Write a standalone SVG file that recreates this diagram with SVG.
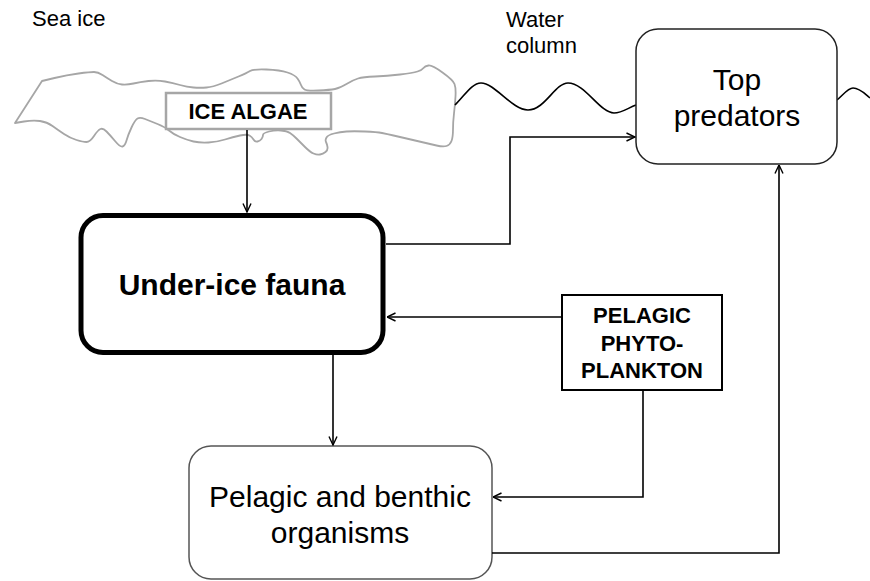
<svg xmlns="http://www.w3.org/2000/svg" width="870" height="581" viewBox="0 0 870 581">
<defs>
<marker id="arr" viewBox="0 0 10 10" refX="9.5" refY="5" markerWidth="10" markerHeight="10" markerUnits="userSpaceOnUse" orient="auto">
<path d="M1,1 L9.5,5 L1,9" fill="none" stroke="#000" stroke-width="1.4"/>
</marker>
</defs>
<style>
text{font-family:"Liberation Sans",Arial,sans-serif;fill:#000}
.lbl{font-size:22px}
.big{font-size:30px}
.bold{font-weight:bold}
.conn{fill:none;stroke:#000;stroke-width:1.6;marker-end:url(#arr)}
</style>
<rect width="870" height="581" fill="#fff"/>
<g id="labels">
<text class="lbl" x="32" y="26">Sea ice</text>
<text class="lbl" x="506" y="27">Water</text>
<text class="lbl" x="506" y="53">column</text>
</g>
<g id="sea-ice">
<path d="M15,123 L42,81 L54.5,78 Q67,75 78.5,73.5 Q90,72 94,72 Q98,72 102.5,75 Q107,78 112,81 Q117,84 122,84.5 Q127,85 133.5,83.5 Q140,82 148.5,81 Q157,80 165,81.5 Q173,83 180,85 Q187,87 193.5,87.5 Q200,88 206.5,87.5 Q213,87 221.5,83.5 Q230,80 238.5,76.5 Q247,73 250,71 Q253,69 266.5,69.5 Q280,70 287.5,72.5 Q295,75 297.5,78.5 Q300,82 301,85 Q302,88 304.5,89.5 Q307,91 318.5,90.5 Q330,90 335,89 Q340,88 346.5,84 Q353,80 358,78.5 Q363,77 375,76.5 Q387,76 400,74.5 Q413,73 417.5,71.5 Q422,70 423.5,68 Q425,66 428.5,65.5 Q432,65 442.5,72.5 Q453,80 454.5,84 Q456,88 455.5,96.5 Q455,105 454,113.5 Q453,122 453,129.5 Q453,137 451.5,141 Q450,145 446.5,146 Q443,147 436.5,145.5 Q430,144 421.5,142 Q413,140 406.5,138.5 Q400,137 393.5,135.5 Q387,134 382,133 Q377,132 365,131.5 Q353,131 346.5,131.5 Q340,132 334,133.5 Q328,135 326.5,137.5 Q325,140 326,142 Q327,144 327.5,147 Q328,150 325.5,152 Q323,154 320,154.5 Q317,155 313.5,153.5 Q310,152 305,147 Q300,142 296.5,138.5 Q293,135 290,133 Q287,131 281,130.5 Q275,130 269,131.5 Q263,133 263,135 Q263,137 261.5,139 Q260,141 257.5,141.5 Q255,142 253.5,139.5 Q252,137 249.5,135.5 Q247,134 240,135.5 Q233,137 225,139.5 Q217,142 208.5,142.5 Q200,143 193.5,141.5 Q187,140 180,137 Q173,134 169,130.5 Q165,127 157.5,124 Q150,121 145,119 Q140,117 137.5,118.5 Q135,120 131.5,127.5 Q128,135 126.5,140.5 Q125,146 122.5,146.5 Q120,147 115,141 Q110,135 106.5,131.5 Q103,128 100.5,129 Q98,130 94,136 Q90,142 86.5,142 Q83,142 76.5,140 Q70,138 64,134 Q58,130 52.5,126 Q47,122 40,121 Q33,120 24,121.5 L15,123 Z" fill="#fff" stroke="#a6a6a6" stroke-width="1.8" stroke-linejoin="round"/>
</g>
<g id="water-line">
<path d="M455,105 C465,95 472,83 481,83 C495,83 512,110 528,110 C545,110 555,83 568,83 C585,83 600,113 614,113 C622,113 628,108 636,105" fill="none" stroke="#000" stroke-width="1.6"/>
<path d="M837,100 C843,95 848,88 853,88 C860,88 865,94 870,98" fill="none" stroke="#000" stroke-width="1.6"/>
</g>
<g id="ice-algae">
<rect x="166" y="93" width="165" height="36" fill="#fff" stroke="#a6a6a6" stroke-width="2.5"/>
<text class="bold" x="248" y="119" font-size="22" text-anchor="middle">ICE ALGAE</text>
</g>
<g id="under-ice-fauna">
<rect x="81" y="215.5" width="302" height="137" rx="22" fill="#fff" stroke="#000" stroke-width="5"/>
<text class="big bold" x="232" y="295" text-anchor="middle">Under-ice fauna</text>
</g>
<g id="top-predators">
<rect x="636" y="29" width="201" height="135" rx="22" fill="#fff" stroke="#222" stroke-width="1.5"/>
<text class="big" x="737" y="90" text-anchor="middle">Top</text>
<text class="big" x="737" y="126" text-anchor="middle">predators</text>
</g>
<g id="pelagic-phytoplankton">
<rect x="562" y="295" width="160" height="95" fill="#fff" stroke="#000" stroke-width="2"/>
<text class="bold" font-size="22" x="642" y="323" text-anchor="middle">PELAGIC</text>
<text class="bold" font-size="22" x="642" y="351" text-anchor="middle">PHYTO-</text>
<text class="bold" font-size="22" x="642" y="378" text-anchor="middle">PLANKTON</text>
</g>
<g id="pelagic-benthic">
<rect x="189" y="446" width="303" height="133" rx="22" fill="#fff" stroke="#555" stroke-width="1.5"/>
<text class="big" x="340" y="507" text-anchor="middle">Pelagic and benthic</text>
<text class="big" x="340" y="543" text-anchor="middle">organisms</text>
</g>
<g id="connectors">
<path class="conn" d="M247,130 L247,212"/>
<path class="conn" d="M386,244 L510,244 L510,137 L635,137"/>
<path class="conn" d="M562,317 L387,317"/>
<path class="conn" d="M333,355 L333,445"/>
<path class="conn" d="M643,390 L643,497 L493,497"/>
<path class="conn" d="M492,553 L779,553 L779,165"/>
</g>
</svg>
